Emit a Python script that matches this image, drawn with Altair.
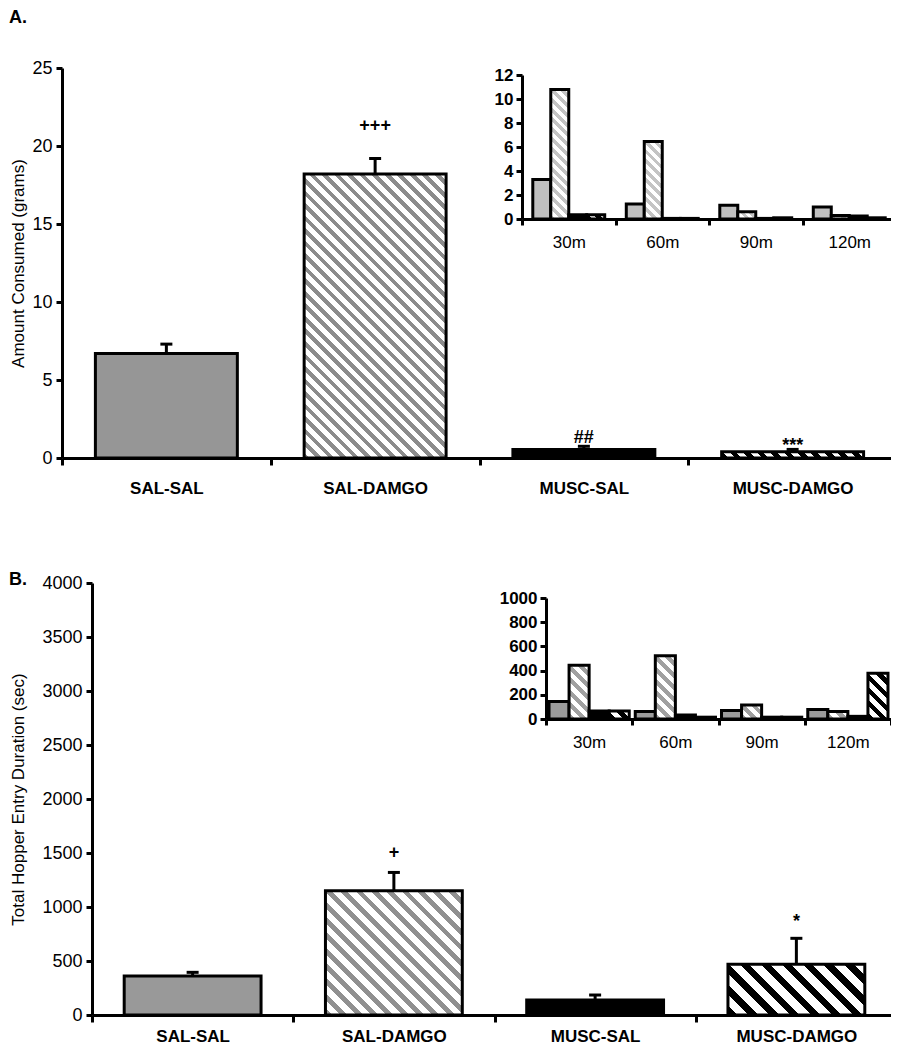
import altair as alt
import pandas as pd

# ---------------- data ----------------
cats = ["SAL-SAL", "SAL-DAMGO", "MUSC-SAL", "MUSC-DAMGO"]
times = ["30m", "60m", "90m", "120m"]

# Panel A: amount consumed (grams)
a_mean = [6.7, 18.2, 0.55, 0.4]
a_upper = [7.3, 19.2, 0.75, 0.55]
a_sig = ["", "+++", "##", "***"]
a_sig_y = [0, 21.3, 1.3, 0.8]

# Panel A inset: consumption per 30-min bin
a_in_salsal = [3.3, 1.25, 1.15, 1.0]
a_in_saldamgo = [10.8, 6.45, 0.6, 0.3]
a_in_muscsal = [0.35, 0.05, 0.05, 0.25]
a_in_muscdamgo = [0.35, 0.05, 0.1, 0.1]

# Panel B: total hopper entry duration (sec)
b_mean = [360, 1150, 140, 470]
b_upper = [395, 1320, 185, 710]
b_sig = ["", "+", "", "*"]
b_sig_y = [0, 1500, 0, 860]

# Panel B inset
b_in_salsal = [145, 62, 71, 78]
b_in_saldamgo = [445, 522, 115, 62]
b_in_muscsal = [67, 33, 15, 22]
b_in_muscdamgo = [67, 15, 15, 378]

# ---------------- layout / style ----------------
FONT = "Liberation Sans"
W, H = 883, 1040

A_X, A_Y = [54, 889], [450, 60]
AI_X, AI_Y = [514, 888], [211, 67]
B_X, B_Y = [84, 889], [1007, 575]
BI_X, BI_Y = [538, 883], [711, 590]

BAR_BAND = 0.68


def hatch(stripe, bg, period, frac=0.45):
    def make(w, h):
        if h < 2.5:
            return "black"
        n = max(1, round((w + h) / period))
        k = (w + h) / (w * w + h * h)
        stops = []
        for i in range(n):
            a, m, b = i / n, (i + frac) / n, (i + 1) / n
            stops += [{"offset": a, "color": stripe}, {"offset": m, "color": stripe},
                      {"offset": m, "color": bg}, {"offset": b, "color": bg}]
        return {"gradient": "linear", "x1": 0, "y1": 1, "x2": k * w, "y2": 1 - k * h,
                "stops": stops}
    return make


def solid(color):
    return lambda w, h: color


def ax(**kw):
    base = dict(domainColor="black", domainWidth=3, tickColor="black", tickWidth=3,
                labelColor="black", labelFont=FONT, grid=False, titleFont=FONT,
                titleColor="black", format="d")
    base.update(kw)
    return alt.Axis(**base)


def main_panel(mean, upper, sig, sig_y, xr, yr, ymax, yticks, ytitle, title_x, styles,
               xlabel_pad):
    df = pd.DataFrame({"cat": cats, "v": mean, "up": upper, "sig": sig, "sy": sig_y})
    xsc = alt.Scale(domain=cats, range=xr, paddingInner=0, paddingOuter=0)
    ysc = alt.Scale(domain=[0, ymax], range=yr, nice=False, zero=True)
    step = (xr[1] - xr[0]) / len(cats)
    pxu = (yr[0] - yr[1]) / ymax
    layers = []
    for i, c in enumerate(cats):
        fill = styles[i](step * BAR_BAND, mean[i] * pxu)
        if i == 0:
            xa = alt.Axis(orient="bottom", offset=-(H - yr[0]), tickBand="extent",
                          tickSize=7, labelAngle=0, labelFontSize=17,
                          labelFontWeight="bold", labelPadding=xlabel_pad, title=None,
                          domainColor="black", domainWidth=3, tickColor="black",
                          tickWidth=3, labelColor="black", labelFont=FONT, grid=False)
            ya = ax(orient="left", offset=-xr[0], values=yticks, tickSize=6,
                    labelFontSize=18, labelPadding=4, title=ytitle,
                    titleFontSize=17, titleFontWeight="normal", titleX=title_x,
                    titleY=(yr[0] + yr[1]) / 2, titleBaseline="middle", titleAngle=270)
        else:
            xa = None
            ya = None
        layers.append(
            alt.Chart(df).transform_filter(alt.datum.cat == c)
            .mark_bar(fill=fill, stroke="black", strokeWidth=3,
                      width={"band": BAR_BAND})
            .encode(x=alt.X("cat:N", scale=xsc, axis=xa, sort=cats),
                    y=alt.Y("v:Q", scale=ysc, axis=ya))
        )
    layers.append(
        alt.Chart(df).mark_rule(color="black", strokeWidth=3)
        .encode(x=alt.X("cat:N", scale=xsc, axis=None, sort=cats),
                y=alt.Y("v:Q", scale=ysc, axis=None), y2="up:Q")
    )
    layers.append(
        alt.Chart(df).mark_tick(color="black", size=12, thickness=3, opacity=1)
        .encode(x=alt.X("cat:N", scale=xsc, axis=None, sort=cats),
                y=alt.Y("up:Q", scale=ysc, axis=None))
    )
    layers.append(
        alt.Chart(df).transform_filter(alt.datum.sig != "")
        .mark_text(font=FONT, fontSize=18, fontWeight="bold", color="black",
                   baseline="middle")
        .encode(x=alt.X("cat:N", scale=xsc, axis=None, sort=cats),
                y=alt.Y("sy:Q", scale=ysc, axis=None), text="sig:N")
    )
    return layers


def inset_panel(series, xr, yr, ymax, yticks, styles, outer):
    rows = []
    for g, vals in zip(cats, series):
        for t, v in zip(times, vals):
            rows.append({"grp": g, "time": t, "v": v})
    df = pd.DataFrame(rows)
    xsc = alt.Scale(domain=times, range=xr, paddingInner=0, paddingOuter=0)
    osc = alt.Scale(domain=cats, paddingInner=0, paddingOuter=outer)
    ysc = alt.Scale(domain=[0, ymax], range=yr, nice=False, zero=True)
    step = (xr[1] - xr[0]) / len(times)
    bw = step / (len(cats) + 2 * outer)
    pxu = (yr[0] - yr[1]) / ymax
    layers = []
    first = True
    for gi, g in enumerate(cats):
        for ti, t in enumerate(times):
            v = series[gi][ti]
            fill = styles[gi](bw, v * pxu)
            if first:
                xa = alt.Axis(orient="bottom", offset=-(H - yr[0]), tickBand="extent",
                              tickSize=6, labelAngle=0, labelFontSize=17,
                              labelPadding=9, title=None, domainColor="black",
                              domainWidth=3, tickColor="black", tickWidth=3,
                              labelColor="black", labelFont=FONT, grid=False)
                ya = ax(orient="left", offset=-xr[0], values=yticks, tickSize=6,
                        labelFontSize=17, labelFontWeight="bold", labelPadding=3,
                        title=None)
                first = False
            else:
                xa = None
                ya = None
            layers.append(
                alt.Chart(df)
                .transform_filter((alt.datum.grp == g) & (alt.datum.time == t))
                .mark_bar(fill=fill, stroke="black", strokeWidth=3)
                .encode(x=alt.X("time:N", scale=xsc, axis=xa, sort=times),
                        xOffset=alt.XOffset("grp:N", scale=osc, sort=cats),
                        y=alt.Y("v:Q", scale=ysc, axis=ya))
            )
    return layers


a_styles = [solid("#969696"), hatch("#8c8c8c", "white", 12.5),
            solid("black"), hatch("black", "white", 14, 0.5)]
ai_styles = [solid("#c0c0c0"), hatch("#c4c4c4", "white", 10, 0.5),
             solid("black"), hatch("black", "white", 10, 0.5)]
b_styles = [solid("#999999"), hatch("#909090", "white", 15),
            solid("black"), hatch("black", "white", 20, 0.45)]
bi_styles = [solid("#9b9b9b"), hatch("#a0a0a0", "white", 12, 0.5),
             solid("black"), hatch("black", "white", 12, 0.5)]

layers = []
layers += main_panel(a_mean, a_upper, a_sig, a_sig_y, A_X, A_Y, 25,
                     [0, 5, 10, 15, 20, 25], "Amount Consumed (grams)", -44,
                     a_styles, 15)
layers += inset_panel([a_in_salsal, a_in_saldamgo, a_in_muscsal, a_in_muscdamgo],
                      AI_X, AI_Y, 12, [0, 2, 4, 6, 8, 10, 12], ai_styles, 0.6)
layers += main_panel(b_mean, b_upper, b_sig, b_sig_y, B_X, B_Y, 4000,
                     list(range(0, 4001, 500)), "Total Hopper Entry Duration (sec)", -74,
                     b_styles, 6)
layers += inset_panel([b_in_salsal, b_in_saldamgo, b_in_muscsal, b_in_muscdamgo],
                      BI_X, BI_Y, 1000, [0, 200, 400, 600, 800, 1000], bi_styles, 0.15)

panel_labels = pd.DataFrame({"t": ["A.", "B."]})
layers.append(
    alt.Chart(panel_labels).transform_filter(alt.datum.t == "A.")
    .mark_text(font=FONT, fontSize=18, fontWeight="bold", color="black", align="left",
               baseline="alphabetic")
    .encode(x=alt.value(1), y=alt.value(15), text="t:N")
)
layers.append(
    alt.Chart(panel_labels).transform_filter(alt.datum.t == "B.")
    .mark_text(font=FONT, fontSize=18, fontWeight="bold", color="black", align="left",
               baseline="alphabetic")
    .encode(x=alt.value(1), y=alt.value(577), text="t:N")
)

chart = (
    alt.layer(*layers)
    .resolve_scale(x="independent", y="independent", xOffset="independent")
    .resolve_axis(x="independent", y="independent")
    .properties(width=W, height=H, autosize=alt.AutoSizeParams(type="none"), padding=0)
    .configure_view(stroke=None)
)

chart.save("out.html", embed_options={"renderer": "svg", "actions": False})
